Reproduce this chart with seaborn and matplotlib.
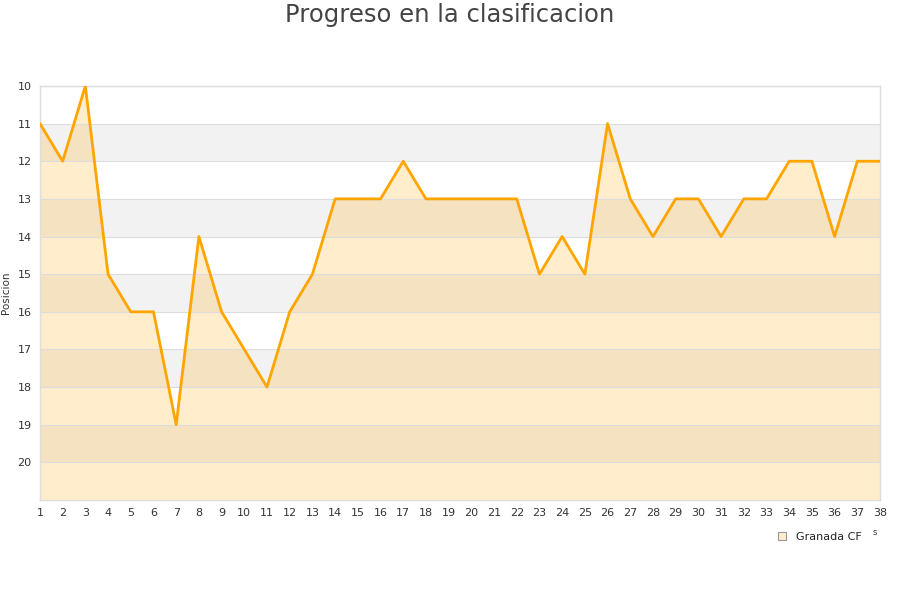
import matplotlib
matplotlib.use("Agg")
import matplotlib.pyplot as plt
import seaborn as sns
import pandas as pd
from matplotlib.lines import Line2D

jornadas = list(range(1, 39))
posiciones = [11, 12, 10, 15, 16, 16, 19, 14, 16, 17, 18, 16, 15, 13, 13, 13, 12, 13, 13, 13,
              13, 13, 15, 14, 15, 11, 13, 14, 13, 13, 14, 13, 13, 12, 12, 14, 12, 12]
equipo = "Granada CF"

df = pd.DataFrame({"Jornada": jornadas, "Posicion": posiciones})

sns.set_style("white")
fig = plt.figure(figsize=(9, 6), dpi=100)
ax = fig.add_axes([0.0444, 0.1667, 0.9334, 0.69])

# bandas alternas
for y0 in range(11, 21, 2):
    ax.axhspan(y0, y0 + 1, color="#f2f2f2", zorder=0, lw=0)

ax.fill_between(df["Jornada"], df["Posicion"], 21, color="#ffa500", alpha=0.2, lw=0, zorder=1)
sns.lineplot(data=df, x="Jornada", y="Posicion", ax=ax, color="#ffa500", lw=2, zorder=3)

ax.set_xlim(1, 38)
ax.set_ylim(21, 10)
ax.set_xticks(jornadas)
ax.set_yticks(range(10, 21))
ax.grid(axis="y", color="#dddddd", lw=0.8, zorder=2)
ax.set_axisbelow(False)
ax.tick_params(length=0, labelsize=8, colors="#333333", pad=6)
for s in ax.spines.values():
    s.set_color("#dddddd")
    s.set_linewidth(1)

ax.set_xlabel("")
ax.set_ylabel("Posicion", fontsize=7.5, color="#333333")
ax.yaxis.set_label_coords(-0.034, 0.5)

fig.text(0.5, 0.975, "Progreso en la clasificacion", ha="center", va="center",
         fontsize=17.5, color="#444444")
fig.text(0.972, 0.113, "s", ha="center", va="center", fontsize=6, color="#333333")

handle = Line2D([], [], marker="s", ls="", markersize=6, markerfacecolor="#ffedcc",
                markeredgecolor="#999999", markeredgewidth=0.8)
fig.legend([handle], [equipo], loc="center", bbox_to_anchor=(0.907, 0.105), frameon=False,
           fontsize=8, handletextpad=0.3, labelcolor="#222222")

fig.savefig("out.png", dpi=100)
